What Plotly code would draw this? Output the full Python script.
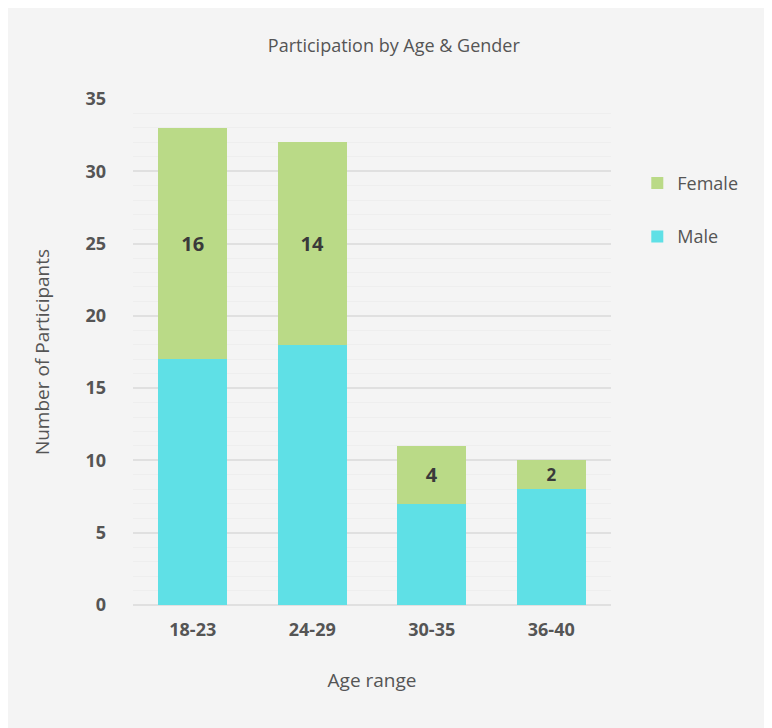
import plotly.graph_objects as go

categories = ["18-23", "24-29", "30-35", "36-40"]
male = [17, 18, 7, 8]
female = [16, 14, 4, 2]
y_ticks = [0, 5, 10, 15, 20, 25, 30, 35]

FONT = "Open Sans, sans-serif"
GREY = "#555555"

fig = go.Figure()
fig.add_trace(go.Bar(
    x=categories, y=male, name="Male", marker=dict(color="#5fe0e6", line=dict(width=0)),
    width=0.58, legendrank=2, legendgroup="male", hoverinfo="y+name",
))
fig.add_trace(go.Bar(
    x=categories, y=female, name="Female", marker=dict(color="#bada87", line=dict(width=0)),
    width=0.58, legendrank=1, legendgroup="female", text=[str(v) for v in female], textposition="inside",
    insidetextanchor="middle", textangle=0,
    textfont=dict(family=FONT, size=20, color="#3a3a3a", weight="bold"),
    hoverinfo="y+name",
))

fig.update_layout(
    barmode="stack",
    width=764, height=720,
    paper_bgcolor="#f4f4f4", plot_bgcolor="#f4f4f4",
    margin=dict(l=125, r=161, t=91, b=123),
    font=dict(family=FONT, color=GREY),
    title=dict(text="Participation by Age & Gender", x=0.505, xanchor="center", y=0.948, yanchor="middle",
               font=dict(family=FONT, size=18, color=GREY)),
    legend=dict(x=1.055, y=0.87, xanchor="left", yanchor="top", traceorder="grouped",
                tracegroupgap=27, font=dict(family=FONT, size=18, color=GREY),
                itemwidth=30, bgcolor="rgba(0,0,0,0)"),
    xaxis=dict(showgrid=False, showline=False, zeroline=False, ticks="",
               tickfont=dict(family=FONT, size=18, color=GREY, weight="bold"),
               ticklabelstandoff=12,
               title=dict(text="Age range", font=dict(family=FONT, size=19, color=GREY), standoff=33)),
    yaxis=dict(range=[0, 35], tickvals=y_ticks, showgrid=True, gridcolor="#e0e0e0", gridwidth=2,
               zeroline=True, zerolinecolor="#e0e0e0", zerolinewidth=2,
               minor=dict(dtick=1, showgrid=True, gridcolor="#eeeeee", gridwidth=1),
               tickfont=dict(family=FONT, size=18, color=GREY, weight="bold"),
               ticklabelstandoff=26,
               title=dict(text="Number of Participants", font=dict(family=FONT, size=19, color=GREY), standoff=30)),
)

fig.write_html("out.html")
